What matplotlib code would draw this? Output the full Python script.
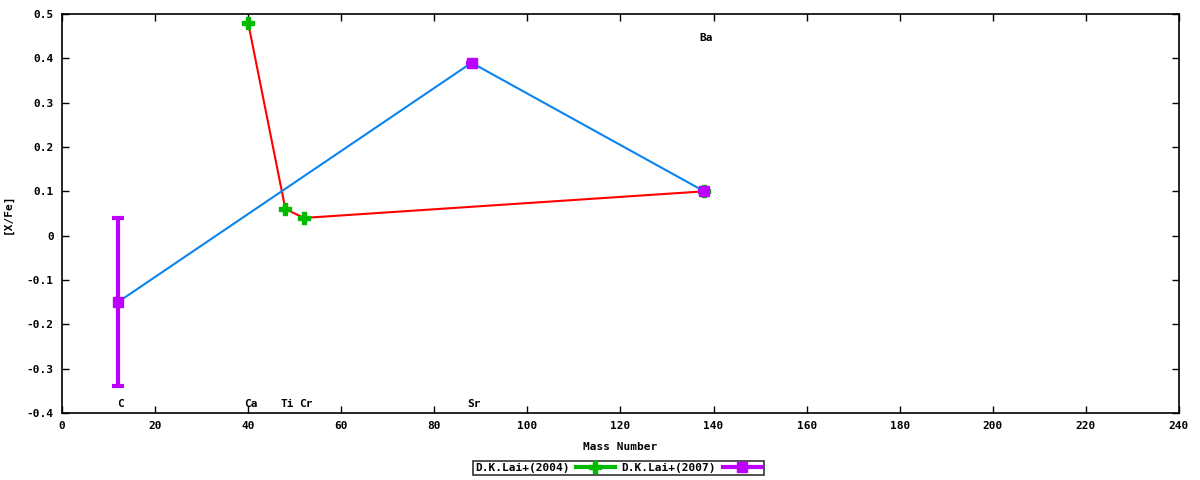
import numpy as np
import matplotlib
matplotlib.use('Agg')
import matplotlib.pyplot as plt
from matplotlib.lines import Line2D

plt.rcParams['font.family'] = ['DejaVu Sans Mono']
plt.rcParams['font.weight'] = 'bold'
plt.rcParams['font.size'] = 8

# D.K.Lai+(2004)
mass_2004 = [40, 48, 52, 138]
xfe_2004 = [0.48, 0.06, 0.04, 0.10]

# D.K.Lai+(2007)
mass_2007 = [12, 88, 138]
xfe_2007 = [-0.15, 0.39, 0.10]
err_2007 = [0.19, 0.0, 0.0]

# element labels
elem_names = ['C', 'Ca', 'Ti', 'Cr', 'Sr', 'Ba']
elem_mass = [12, 40, 48, 52, 88, 138]
elem_y = [-0.38, -0.38, -0.38, -0.38, -0.38, 0.445]

yticks = [-0.4, -0.3, -0.2, -0.1, 0, 0.1, 0.2, 0.3, 0.4, 0.5]
ytick_labels = ['-0.4', '-0.3', '-0.2', '-0.1', '0', '0.1', '0.2', '0.3', '0.4', '0.5']

fig = plt.figure(figsize=(12, 4.8), dpi=100)
ax = fig.add_axes([0.05167, 0.1396, 0.9308, 0.83125])

ax.plot(mass_2004, xfe_2004, color='#ff0000', lw=1.5, zorder=2)
ax.plot(mass_2007, xfe_2007, color='#0a84ef', lw=1.5, zorder=2)

ax.plot(mass_2004, xfe_2004, ls='none', marker='P', ms=9, color='#00bb00',
        mec='#00bb00', zorder=3)

ax.errorbar(mass_2007, xfe_2007, yerr=err_2007, fmt='none', ecolor='#bb00ff',
            elinewidth=3, capsize=4, capthick=3, zorder=3)
ax.plot(mass_2007, xfe_2007, ls='none', marker='s', ms=7, color='#bb00ff',
        mec='#bb00ff', zorder=4)

for name, m, yv in zip(elem_names, elem_mass, elem_y):
    ax.text(m + 0.5, yv, name, ha='center', va='center', fontsize=8, fontweight='bold')

ax.set_xlim(0, 240)
ax.set_ylim(-0.4, 0.5)
ax.set_xticks(np.arange(0, 241, 20))
ax.set_yticks(yticks)
ax.set_yticklabels(ytick_labels)
ax.tick_params(direction='in', top=True, right=True, length=5, width=1,
               labelsize=8, pad=6)
for s in ax.spines.values():
    s.set_linewidth(1.2)

ax.set_xlabel('Mass Number', fontsize=8, fontweight='bold', labelpad=8)
ax.set_ylabel('[X/Fe]', fontsize=8, fontweight='bold', labelpad=10)

h1 = Line2D([], [], color='#00bb00', lw=3, marker='P', ms=9)
h2 = Line2D([], [], color='#bb00ff', lw=3, marker='s', ms=7)
leg = ax.legend([h1, h2], ['D.K.Lai+(2004)', 'D.K.Lai+(2007)'], ncol=2,
                loc='center', bbox_to_anchor=(0.498, -0.138), markerfirst=False,
                frameon=True, fancybox=False, edgecolor='black', fontsize=8,
                handlelength=3.5, handletextpad=0.6, columnspacing=0.6,
                borderpad=0.2, borderaxespad=0)
leg.get_frame().set_linewidth(1.2)

fig.savefig('out.png', dpi=100)
